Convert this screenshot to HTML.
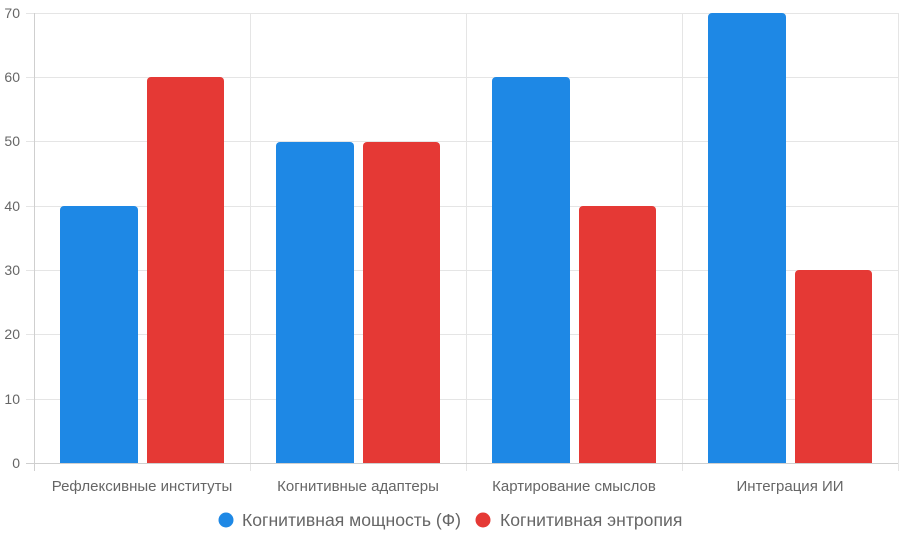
<!DOCTYPE html>
<html><head><meta charset="utf-8"><style>html,body{margin:0;padding:0;background:#fff}svg{display:block}</style></head><body>
<svg width="899" height="542" xmlns="http://www.w3.org/2000/svg" font-family="Liberation Sans, sans-serif">
<g stroke="#e5e5e5" stroke-width="1">
<line x1="26" x2="898" y1="13.5" y2="13.5"/>
<line x1="26" x2="898" y1="77.5" y2="77.5"/>
<line x1="26" x2="898" y1="141.5" y2="141.5"/>
<line x1="26" x2="898" y1="206.5" y2="206.5"/>
<line x1="26" x2="898" y1="270.5" y2="270.5"/>
<line x1="26" x2="898" y1="334.5" y2="334.5"/>
<line x1="26" x2="898" y1="399.5" y2="399.5"/>
<line x1="250.5" x2="250.5" y1="13" y2="471"/>
<line x1="466.5" x2="466.5" y1="13" y2="471"/>
<line x1="682.5" x2="682.5" y1="13" y2="471"/>
<line x1="898.5" x2="898.5" y1="13" y2="471"/>
</g>
<g stroke="#cfcfcf"><line x1="34.5" x2="34.5" y1="13" y2="471"/><line x1="26" x2="898" y1="463.5" y2="463.5"/></g>
<g fill="#666" font-size="14" text-anchor="end">
<text x="20" y="18">70</text><text x="20" y="82">60</text><text x="20" y="146">50</text><text x="20" y="211">40</text><text x="20" y="275">30</text><text x="20" y="339">20</text><text x="20" y="404">10</text><text x="20" y="468">0</text>
</g>
<g fill="#1e88e5">
<path d="M60 463V210a4 4 0 0 1 4-4h70a4 4 0 0 1 4 4V463z"/>
<path d="M276 463V146a4 4 0 0 1 4-4h70a4 4 0 0 1 4 4V463z"/>
<path d="M492 463V81a4 4 0 0 1 4-4h70a4 4 0 0 1 4 4V463z"/>
<path d="M708 463V17a4 4 0 0 1 4-4h70a4 4 0 0 1 4 4V463z"/>
</g>
<g fill="#e53935">
<path d="M147 463V81a4 4 0 0 1 4-4h69a4 4 0 0 1 4 4V463z"/>
<path d="M363 463V146a4 4 0 0 1 4-4h69a4 4 0 0 1 4 4V463z"/>
<path d="M579 463V210a4 4 0 0 1 4-4h69a4 4 0 0 1 4 4V463z"/>
<path d="M795 463V274a4 4 0 0 1 4-4h69a4 4 0 0 1 4 4V463z"/>
</g>
<g fill="#666" font-size="15" text-anchor="middle">
<text x="142" y="491">Рефлексивные институты</text>
<text x="358" y="491">Когнитивные адаптеры</text>
<text x="574" y="491">Картирование смыслов</text>
<text x="790" y="491">Интеграция ИИ</text>
</g>
<circle cx="226" cy="520" r="7.5" fill="#1e88e5"/>
<text x="242" y="526" font-size="17.6" fill="#666">Когнитивная мощность (Ф)</text>
<circle cx="483" cy="520" r="7.5" fill="#e53935"/>
<text x="500" y="526" font-size="17.6" fill="#666">Когнитивная энтропия</text>
</svg>
</body></html>
